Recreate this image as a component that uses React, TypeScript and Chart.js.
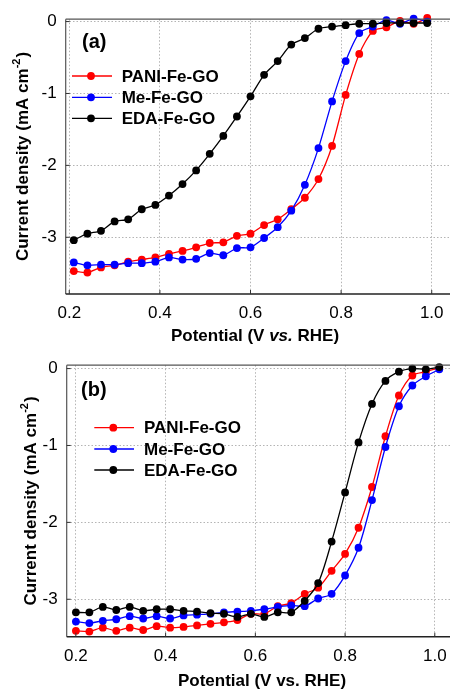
import { useEffect, useRef } from 'react';
import { Chart, registerables } from 'chart.js';

Chart.register(...registerables);

// ---------- data ----------
const seriesLabels = ['PANI-Fe-GO', 'Me-Fe-GO', 'EDA-Fe-GO'];
const seriesColors = ['#ff0000', '#0000ff', '#000000'];

const potentialA = [0.21, 0.24, 0.27, 0.30, 0.33, 0.36, 0.39, 0.42, 0.45, 0.48, 0.51, 0.54, 0.57, 0.60, 0.63, 0.66, 0.69, 0.72, 0.75, 0.78, 0.81, 0.84, 0.87, 0.90, 0.93, 0.96, 0.99];
const paniA = [-3.47, -3.49, -3.42, -3.39, -3.34, -3.31, -3.28, -3.23, -3.19, -3.14, -3.08, -3.07, -2.98, -2.95, -2.83, -2.75, -2.61, -2.45, -2.19, -1.73, -1.02, -0.45, -0.13, -0.08, 0.01, -0.03, 0.05];
const meA = [-3.35, -3.39, -3.38, -3.38, -3.36, -3.36, -3.34, -3.28, -3.31, -3.30, -3.22, -3.25, -3.15, -3.14, -3.01, -2.86, -2.63, -2.27, -1.76, -1.11, -0.55, -0.16, -0.07, 0.02, -0.03, 0.04, 0.00];
const edaA = [-3.04, -2.95, -2.91, -2.78, -2.75, -2.61, -2.55, -2.42, -2.26, -2.07, -1.84, -1.59, -1.32, -1.04, -0.74, -0.55, -0.32, -0.23, -0.10, -0.07, -0.05, -0.03, -0.03, -0.02, -0.02, -0.02, -0.02];

const potentialB = [0.20, 0.23, 0.26, 0.29, 0.32, 0.35, 0.38, 0.41, 0.44, 0.47, 0.50, 0.53, 0.56, 0.59, 0.62, 0.65, 0.68, 0.71, 0.74, 0.77, 0.80, 0.83, 0.86, 0.89, 0.92, 0.95, 0.98, 1.01];
const paniB = [-3.41, -3.42, -3.37, -3.41, -3.37, -3.40, -3.35, -3.37, -3.36, -3.34, -3.32, -3.30, -3.27, -3.19, -3.19, -3.09, -3.05, -2.93, -2.85, -2.63, -2.41, -2.07, -1.54, -0.88, -0.35, -0.09, -0.04, 0.01];
const meB = [-3.29, -3.31, -3.28, -3.26, -3.22, -3.25, -3.22, -3.25, -3.21, -3.20, -3.19, -3.17, -3.16, -3.15, -3.13, -3.10, -3.08, -3.09, -2.99, -2.93, -2.69, -2.33, -1.71, -1.02, -0.49, -0.22, -0.10, -0.01];
const edaB = [-3.17, -3.17, -3.10, -3.14, -3.10, -3.15, -3.13, -3.13, -3.15, -3.16, -3.18, -3.19, -3.23, -3.19, -3.23, -3.17, -3.17, -3.02, -2.79, -2.25, -1.61, -0.96, -0.46, -0.16, -0.04, 0.00, -0.01, 0.02];

const xTickValues = [0.2, 0.4, 0.6, 0.8, 1.0];
const yTickValues = [0, -1, -2, -3];

const yTitleMain = 'Current density (mA cm';
const yTitleSup = '-2';
const yTitleEnd = ')';

// ---------- layout ----------
const FONT = '"Liberation Sans", Arial, Helvetica, sans-serif';
const CW = 480;

type Part = { t: string; italic?: boolean };
type PanelLayout = {
  top: number;
  height: number;
  chartTop: number;
  chartBottom: number;
  chartLeft: number;
  xMin: number;
  xMax: number;
  yMin: number;
  yMax: number;
  label: string;
  labelX: number;
  labelY: number;
  legendX1: number;
  legendX2: number;
  legendMarkX: number;
  legendTextX: number;
  legendRows: number[];
  xTitle: Part[];
  xTitleX: number;
  xTitleY: number;
  yTitleX: number;
  yTitleY: number;
  tension: number;
};

const panelA: PanelLayout = {
  top: 0,
  height: 346,
  chartTop: 18.3,
  chartBottom: 294,
  chartLeft: 65.7,
  xMin: 0.1921,
  xMax: 0.2 + (CW - 69.3) / 457.5,
  yMin: -3.789,
  yMax: 0.033,
  label: '(a)',
  labelX: 82,
  labelY: 42,
  legendX1: 72,
  legendX2: 112,
  legendMarkX: 91,
  legendTextX: 121.7,
  legendRows: [76, 97.3, 118.3],
  xTitle: [{ t: 'Potential (V ' }, { t: 'vs.', italic: true }, { t: ' RHE)' }],
  xTitleX: 255,
  xTitleY: 336,
  yTitleX: 23.5,
  yTitleY: 156.5,
  tension: 0.25,
};

const panelB: PanelLayout = {
  top: 346,
  height: 345,
  chartTop: 363.3 - 346,
  chartBottom: 636.7 - 346,
  chartLeft: 66.7,
  xMin: 0.1795,
  xMax: 0.2 + (CW - 76) / 453,
  yMin: -3.487,
  yMax: 0.044,
  label: '(b)',
  labelX: 81,
  labelY: 390.7 - 346,
  legendX1: 94.3,
  legendX2: 134,
  legendMarkX: 113.3,
  legendTextX: 144,
  legendRows: [427.7 - 346, 449 - 346, 470 - 346],
  xTitle: [{ t: 'Potential (V vs. RHE)' }],
  xTitleX: 262,
  xTitleY: 681.7 - 346,
  yTitleX: 31.5,
  yTitleY: 501 - 346,
  tension: 0.3,
};

function decorPlugin(p: PanelLayout) {
  return {
    id: 'decor' + p.label,
    afterDraw(chart: any) {
      const ctx: CanvasRenderingContext2D = chart.ctx;
      const { left, right, top, bottom } = chart.chartArea;
      const xs = chart.scales.x;
      const ys = chart.scales.y;
      ctx.save();
      ctx.setLineDash([]);
      // frame
      ctx.strokeStyle = '#555';
      ctx.lineWidth = 1.2;
      ctx.beginPath();
      ctx.moveTo(left, top);
      ctx.lineTo(right, top);
      ctx.moveTo(left, top);
      ctx.lineTo(left, bottom);
      ctx.stroke();
      ctx.strokeStyle = '#222';
      ctx.lineWidth = 1.6;
      ctx.beginPath();
      ctx.moveTo(left, bottom);
      ctx.lineTo(right, bottom);
      ctx.stroke();
      // inward ticks
      ctx.strokeStyle = '#333';
      ctx.lineWidth = 1;
      ctx.beginPath();
      xTickValues.forEach((v) => {
        const x = xs.getPixelForValue(v);
        ctx.moveTo(x, bottom);
        ctx.lineTo(x, bottom - 4);
      });
      yTickValues.forEach((v) => {
        const y = ys.getPixelForValue(v);
        ctx.moveTo(left, y);
        ctx.lineTo(left + 4, y);
      });
      ctx.stroke();

      // panel label
      ctx.fillStyle = '#000';
      ctx.textBaseline = 'middle';
      ctx.textAlign = 'left';
      ctx.font = `bold 20px ${FONT}`;
      ctx.fillText(p.label, p.labelX, p.labelY);

      // legend
      chart.data.datasets.forEach((ds: any, i: number) => {
        const y = p.legendRows[i];
        ctx.strokeStyle = ds.borderColor;
        ctx.lineWidth = 1.3;
        ctx.beginPath();
        ctx.moveTo(p.legendX1, y);
        ctx.lineTo(p.legendX2, y);
        ctx.stroke();
        ctx.fillStyle = ds.pointBackgroundColor;
        ctx.beginPath();
        ctx.arc(p.legendMarkX, y, 3.9, 0, Math.PI * 2);
        ctx.fill();
        ctx.fillStyle = '#000';
        ctx.font = `bold 17px ${FONT}`;
        ctx.fillText(ds.label, p.legendTextX, y + 1);
      });

      // x title
      ctx.fillStyle = '#000';
      const fontFor = (it?: boolean) => `${it ? 'italic ' : ''}bold 17px ${FONT}`;
      let total = 0;
      p.xTitle.forEach((part) => {
        ctx.font = fontFor(part.italic);
        total += ctx.measureText(part.t).width;
      });
      let cx = p.xTitleX - total / 2;
      p.xTitle.forEach((part) => {
        ctx.font = fontFor(part.italic);
        ctx.fillText(part.t, cx, p.xTitleY);
        cx += ctx.measureText(part.t).width;
      });

      // y title (rotated, with superscript)
      ctx.save();
      ctx.translate(p.yTitleX, p.yTitleY);
      ctx.rotate(-Math.PI / 2);
      const mainFont = `bold 17px ${FONT}`;
      const supFont = `bold 11px ${FONT}`;
      ctx.font = mainFont;
      const w1 = ctx.measureText(yTitleMain).width;
      const w3 = ctx.measureText(yTitleEnd).width;
      ctx.font = supFont;
      const w2 = ctx.measureText(yTitleSup).width;
      const tot = w1 + w2 + w3 + 1;
      let tx = -tot / 2;
      ctx.font = mainFont;
      ctx.fillText(yTitleMain, tx, 0);
      tx += w1;
      ctx.font = supFont;
      ctx.fillText(yTitleSup, tx, -7);
      tx += w2 + 1;
      ctx.font = mainFont;
      ctx.fillText(yTitleEnd, tx, 0);
      ctx.restore();

      ctx.restore();
    },
  };
}

function buildDatasets(x: number[], series: number[][], tension: number) {
  return series.map((vals, i) => ({
    label: seriesLabels[i],
    data: x.map((xv, j) => ({ x: xv, y: vals[j] })),
    borderColor: seriesColors[i],
    backgroundColor: seriesColors[i],
    pointBackgroundColor: seriesColors[i],
    pointBorderColor: seriesColors[i],
    pointBorderWidth: 0,
    pointRadius: 3.9,
    borderWidth: 1.3,
    tension,
    clip: false as any,
    order: 3 - i,
  }));
}

function Panel({ p, x, series }: { p: PanelLayout; x: number[]; series: number[][] }) {
  const ref = useRef<HTMLCanvasElement | null>(null);
  useEffect(() => {
    if (!ref.current) return;
    const chart = new Chart(ref.current, {
      type: 'line',
      data: { datasets: buildDatasets(x, series, p.tension) as any },
      options: {
        responsive: false,
        animation: false,
        devicePixelRatio: 1,
        layout: { padding: { top: p.chartTop, left: 0, right: 0, bottom: 0 } },
        plugins: { legend: { display: false }, tooltip: { enabled: false }, title: { display: false } },
        scales: {
          x: {
            type: 'linear',
            min: p.xMin,
            max: p.xMax,
            afterBuildTicks: (s: any) => {
              s.ticks = xTickValues.map((v) => ({ value: v }));
            },
            afterFit: (s: any) => {
              s.height = p.height - p.chartBottom;
            },
            ticks: {
              padding: 9,
              color: '#000',
              font: { family: FONT, size: 17 },
              maxRotation: 0,
              autoSkip: false,
              callback: (v: any) => Number(v).toFixed(1),
            },
            grid: { color: '#b4b4b4', lineWidth: 1, drawTicks: false },
            border: { display: false, dash: [1.5, 2] },
          },
          y: {
            type: 'linear',
            min: p.yMin,
            max: p.yMax,
            afterBuildTicks: (s: any) => {
              s.ticks = yTickValues.map((v) => ({ value: v }));
            },
            afterFit: (s: any) => {
              s.width = p.chartLeft;
            },
            ticks: {
              padding: 9,
              color: '#000',
              font: { family: FONT, size: 17 },
              autoSkip: false,
              callback: (v: any) => String(Math.round(Number(v))),
            },
            grid: { color: '#b4b4b4', lineWidth: 1, drawTicks: false },
            border: { display: false, dash: [1.5, 2] },
          },
        },
      },
      plugins: [decorPlugin(p)],
    });
    return () => chart.destroy();
  }, []);
  return (
    <canvas
      ref={ref}
      width={CW}
      height={p.height}
      style={{ position: 'absolute', left: 0, top: p.top, width: CW, height: p.height }}
    />
  );
}

export default function App() {
  return (
    <div
      style={{
        position: 'absolute',
        left: 0,
        top: 0,
        width: 450,
        height: 691,
        overflow: 'hidden',
        background: '#fff',
      }}
    >
      <Panel p={panelA} x={potentialA} series={[paniA, meA, edaA]} />
      <Panel p={panelB} x={potentialB} series={[paniB, meB, edaB]} />
    </div>
  );
}
